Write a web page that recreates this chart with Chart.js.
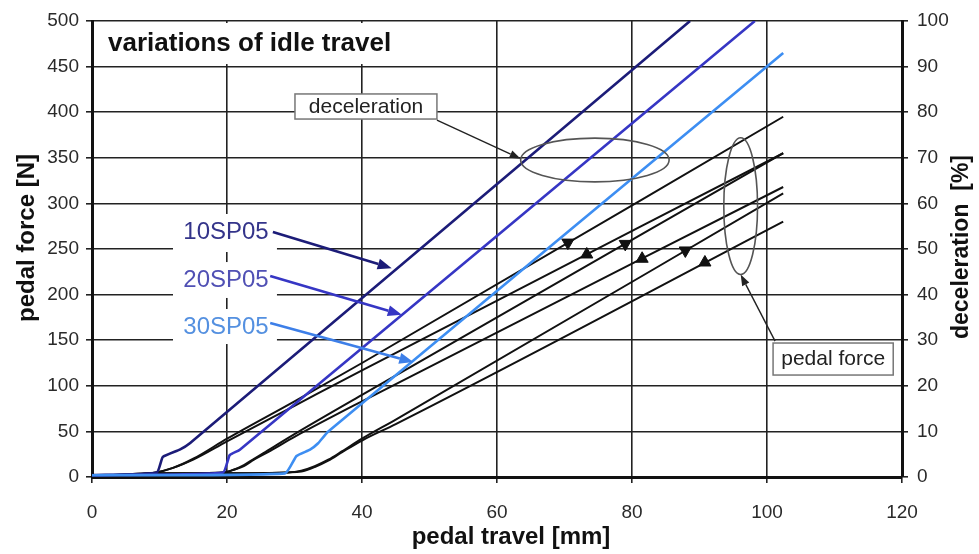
<!DOCTYPE html>
<html>
<head>
<meta charset="utf-8">
<title>variations of idle travel</title>
<script src="https://cdn.jsdelivr.net/npm/chart.js@4.4.1/dist/chart.umd.min.js"></script>
<style>
  html, body { margin: 0; padding: 0; background: #fff; }
  #wrap { width: 979px; height: 554px; }
</style>
</head>
<body>
<div id="wrap"><canvas id="pedalChart" width="979" height="554"></canvas></div>
<script>
// deceleration [%] over pedal travel [mm], one curve per idle-travel variant
const travel10SP05 = [0, 9.6, 10.5, 13, 14.5, 88.6];
const decel10SP05  = [0.4, 1, 4.4, 6, 7.4, 100];
const travel20SP05 = [0, 19.4, 20.4, 21.9, 98.2];
const decel20SP05  = [0.4, 1, 4.8, 6, 100];
const travel30SP05 = [0, 28.6, 30.3, 32.3, 33.5, 35.0, 102.4];
const decel30SP05  = [0.4, 0.8, 4.6, 6, 7.4, 10, 93];

// pedal force [N], apply / release branch per variant
const travelF10  = [0, 4, 9.5, 12, 15, 20, 30, 40, 102.4];
const forceF10up = [1, 2, 5, 10, 20, 42, 83, 125, 395];
const forceF10dn = [1, 2, 5, 10, 19, 39, 78, 117, 355];
const travelF20  = [0, 9.5, 19.5, 21, 22.5, 24, 26, 30, 40, 102.4];
const forceF20up = [1, 4, 5, 8, 13, 20, 29, 47, 90, 355];
const forceF20dn = [1, 4, 5, 8, 12, 19, 27, 44, 83, 318];
const travelF30  = [0, 20, 29, 31, 33, 35, 37, 40, 45, 102.4];
const forceF30up = [1, 4, 5, 7, 12, 19, 28, 42, 63, 311];
const forceF30dn = [1, 4, 5, 6, 11, 18, 27, 40, 58, 280];

// direction markers sitting on the force branches
const arrowDownX = [70.5, 79, 87.9];
const arrowDownY = [257, 255.6, 248.4];
const arrowUpX   = [73.3, 81.5, 90.8];
const arrowUpY   = [244, 239.3, 235.2];

// axis ticks
const travelTicks = [0, 20, 40, 60, 80, 100, 120];
const forceTicks  = [0, 50, 100, 150, 200, 250, 300, 350, 400, 450, 500];
const decelTicks  = [0, 10, 20, 30, 40, 50, 60, 70, 80, 90, 100];

const NAVY = '#1c1c78';
const MID = '#3636c4';
const LIGHT = '#3d8ef2';
const FONT = "'Liberation Sans', Arial, sans-serif";

function zip(xs, ys) {
  return xs.map((x, i) => ({ x: x, y: ys[i] }));
}

function forceLine(xs, ys) {
  return {
    data: zip(xs, ys),
    yAxisID: 'y',
    borderColor: '#111',
    borderWidth: 2,
    pointRadius: 0,
    cubicInterpolationMode: 'monotone'
  };
}

function decelLine(xs, ys, color) {
  return {
    data: zip(xs, ys),
    yAxisID: 'y2',
    borderColor: color,
    borderWidth: 2.6,
    pointRadius: 0,
    tension: 0.15
  };
}

function marker(xs, ys, rotation) {
  return {
    data: zip(xs, ys),
    yAxisID: 'y',
    showLine: false,
    pointStyle: 'triangle',
    rotation: rotation,
    pointRadius: 7,
    backgroundColor: '#111',
    borderColor: '#111'
  };
}

// helpers for the annotation layer (data units -> pixels)
function P(chart, x, y) {
  return [chart.scales.x.getPixelForValue(x), chart.scales.y.getPixelForValue(y)];
}

function arrow(ctx, from, to, color, width, headLen, headW) {
  const ang = Math.atan2(to[1] - from[1], to[0] - from[0]);
  const bx = to[0] - Math.cos(ang) * headLen;
  const by = to[1] - Math.sin(ang) * headLen;
  ctx.strokeStyle = color;
  ctx.fillStyle = color;
  ctx.lineWidth = width;
  ctx.beginPath();
  ctx.moveTo(from[0], from[1]);
  ctx.lineTo(bx, by);
  ctx.stroke();
  ctx.beginPath();
  ctx.moveTo(to[0], to[1]);
  ctx.lineTo(bx + Math.sin(ang) * headW / 2, by - Math.cos(ang) * headW / 2);
  ctx.lineTo(bx - Math.sin(ang) * headW / 2, by + Math.cos(ang) * headW / 2);
  ctx.closePath();
  ctx.fill();
}

// boxes are [x0, y0, x1, y1] in travel / force units
const titleBox = [0.3, 497.8, 46.4, 452.8];
const seriesLabels = [
  { text: '10SP05', color: '#34348a', line: NAVY, at: [19.85, 268.6], box: [12, 288.4, 27.4, 246.7], tail: [26.8, 268.6], tip: [44.4, 229] },
  { text: '20SP05', color: '#5050b4', line: MID, at: [19.85, 216], box: [12, 235.7, 27.4, 196.3], tail: [26.4, 220.4], tip: [45.9, 178] },
  { text: '30SP05', color: '#5490e0', line: '#3d7fe8', at: [19.85, 164.5], box: [12, 184.2, 27.4, 145.8], tail: [26.4, 168.9], tip: [47.6, 126] }
];
const calloutBoxes = [
  { text: 'deceleration', box: [30.07, 420, 51.1, 392.5], at: [40.6, 406], tail: [51.1, 391.4], tip: [63.5, 349],
    ellipse: { c: [74.5, 347.6], rx: 11, ry: 24 } },
  { text: 'pedal force', box: [100.9, 146.9, 118.7, 111.8], at: [109.8, 129.4], tail: [101.2, 149], tip: [96.1, 222],
    ellipse: { c: [96.1, 297], rx: 2.5, ry: 75 } }
];

function boxRect(chart, b) {
  const a = P(chart, b[0], b[1]);
  const c = P(chart, b[2], b[3]);
  return { x: a[0], y: a[1], w: c[0] - a[0], h: c[1] - a[1] };
}

const annotations = {
  id: 'annotations',
  beforeDatasetsDraw(chart) {
    const ctx = chart.ctx;
    ctx.save();
    ctx.fillStyle = '#fff';
    const boxes = [titleBox].concat(seriesLabels.map(s => s.box), calloutBoxes.map(c => c.box));
    boxes.forEach(b => {
      const r = boxRect(chart, b);
      ctx.fillRect(r.x, r.y, r.w, r.h);
    });
    ctx.restore();
  },
  afterDatasetsDraw(chart) {
    const ctx = chart.ctx;
    ctx.save();

    // chart title
    const t = P(chart, 2.37, 474.8);
    ctx.fillStyle = '#111';
    ctx.font = 'bold 26px ' + FONT;
    ctx.textAlign = 'left';
    ctx.textBaseline = 'middle';
    ctx.fillText('variations of idle travel', t[0], t[1]);

    // series labels with their arrows
    ctx.font = '24px ' + FONT;
    ctx.textAlign = 'center';
    seriesLabels.forEach(s => {
      const p = P(chart, s.at[0], s.at[1]);
      ctx.fillStyle = s.color;
      ctx.fillText(s.text, p[0], p[1]);
      arrow(ctx, P(chart, s.tail[0], s.tail[1]), P(chart, s.tip[0], s.tip[1]), s.line, 2.6, 14, 11);
    });

    // callouts: ellipse round a group of curves, boxed caption and pointer
    calloutBoxes.forEach(c => {
      const e = P(chart, c.ellipse.c[0], c.ellipse.c[1]);
      const ex = P(chart, c.ellipse.c[0] + c.ellipse.rx, c.ellipse.c[1] + c.ellipse.ry);
      ctx.strokeStyle = '#555';
      ctx.lineWidth = 1.6;
      ctx.beginPath();
      ctx.ellipse(e[0], e[1], Math.abs(ex[0] - e[0]), Math.abs(ex[1] - e[1]), 0, 0, Math.PI * 2);
      ctx.stroke();

      const r = boxRect(chart, c.box);
      ctx.strokeStyle = '#777';
      ctx.lineWidth = 1.5;
      ctx.strokeRect(r.x, r.y, r.w, r.h);
      const p = P(chart, c.at[0], c.at[1]);
      ctx.fillStyle = '#222';
      ctx.font = '21px ' + FONT;
      ctx.textAlign = 'center';
      ctx.fillText(c.text, p[0], p[1]);
      arrow(ctx, P(chart, c.tail[0], c.tail[1]), P(chart, c.tip[0], c.tip[1]), '#222', 1.4, 11, 8);
    });

    // axis titles
    const area = chart.chartArea;
    ctx.fillStyle = '#111';
    ctx.font = 'bold 24px ' + FONT;
    ctx.textAlign = 'center';
    ctx.fillText('pedal travel [mm]', (area.left + area.right) / 2 + 14, 537);

    ctx.save();
    ctx.translate(27, 238);
    ctx.rotate(-Math.PI / 2);
    ctx.fillText('pedal force [N]', 0, 0);
    ctx.restore();

    ctx.save();
    ctx.font = 'bold 23px ' + FONT;
    ctx.translate(962, 247);
    ctx.rotate(-Math.PI / 2);
    ctx.fillText('deceleration  [%]', 0, 0);
    ctx.restore();

    ctx.restore();
  }
};

const gridStyle = { color: '#222', lineWidth: 1.6, tickLength: 6, tickColor: '#222' };
const tickFont = { family: FONT, size: 19 };

new Chart(document.getElementById('pedalChart'), {
  type: 'line',
  data: {
    datasets: [
      marker(arrowDownX, arrowDownY, 180),
      marker(arrowUpX, arrowUpY, 0),
      decelLine(travel30SP05, decel30SP05, LIGHT),
      decelLine(travel20SP05, decel20SP05, MID),
      decelLine(travel10SP05, decel10SP05, NAVY),
      forceLine(travelF10, forceF10up),
      forceLine(travelF10, forceF10dn),
      forceLine(travelF20, forceF20up),
      forceLine(travelF20, forceF20dn),
      forceLine(travelF30, forceF30up),
      forceLine(travelF30, forceF30dn)
    ]
  },
  options: {
    responsive: false,
    animation: false,
    devicePixelRatio: 1,
    layout: { padding: { top: 21, left: 0, right: 0, bottom: 0 } },
    plugins: { legend: { display: false }, tooltip: { enabled: false } },
    scales: {
      x: {
        type: 'linear',
        min: 0,
        max: 120,
        afterBuildTicks: s => { s.ticks = travelTicks.map(v => ({ value: v })); },
        afterFit: s => { s.height = 77; },
        ticks: { font: tickFont, color: '#2a2a2a', padding: 18 },
        grid: gridStyle,
        border: { width: 3, color: '#111' }
      },
      y: {
        position: 'left',
        min: 0,
        max: 500,
        afterBuildTicks: s => { s.ticks = forceTicks.map(v => ({ value: v })); },
        afterFit: s => { s.width = 92; },
        ticks: { font: tickFont, color: '#2a2a2a', padding: 7 },
        grid: gridStyle,
        border: { width: 3, color: '#111' }
      },
      y2: {
        position: 'right',
        min: 0,
        max: 100,
        afterBuildTicks: s => { s.ticks = decelTicks.map(v => ({ value: v })); },
        afterFit: s => { s.width = 77; },
        ticks: { font: tickFont, color: '#2a2a2a', padding: 9 },
        grid: { drawOnChartArea: false, tickLength: 6, tickColor: '#222', lineWidth: 1.6 },
        border: { width: 3, color: '#111' }
      }
    }
  },
  plugins: [annotations]
});
</script>
</body>
</html>
